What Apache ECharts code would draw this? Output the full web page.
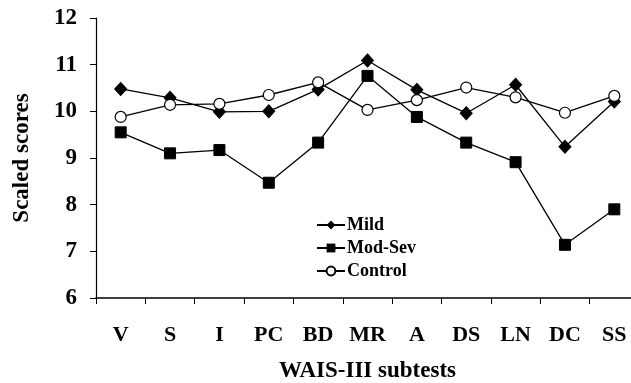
<!DOCTYPE html>
<html>
<head>
<meta charset="utf-8">
<script src="https://cdn.jsdelivr.net/npm/echarts@6/dist/echarts.min.js"></script>
<style>
html,body{margin:0;padding:0;background:#fff;}
#c{width:631px;height:383px;}
</style>
</head>
<body>
<div id="c"></div>
<script>
var categories = ['V','S','I','PC','BD','MR','A','DS','LN','DC','SS'];
var mild    = [10.48, 10.29, 9.99, 10.00, 10.47, 11.09, 10.46, 9.96, 10.57, 9.24, 10.21];
var modSev  = [9.55, 9.10, 9.17, 8.47, 9.33, 10.76, 9.88, 9.33, 8.91, 7.14, 7.90];
var control = [9.88, 10.14, 10.16, 10.35, 10.62, 10.03, 10.24, 10.51, 10.30, 9.97, 10.33];
var yTicks = [6, 7, 8, 9, 10, 11, 12];

var FONT = '"Liberation Serif", "Times New Roman", serif';
var chart = echarts.init(document.getElementById('c'), null, {renderer:'canvas'});
var lineStyle = {color:'#000', width:1.3};
chart.setOption({
  animation:false,
  backgroundColor:'#fff',
  textStyle:{fontFamily:FONT, color:'#000'},
  grid:{left:96, top:18, right:-8, bottom:85, containLabel:false, outerBoundsMode:'none'},
  legend:{
    orient:'vertical', left:311, top:211, itemWidth:28, itemHeight:11, itemGap:5,
    textStyle:{fontFamily:FONT, fontWeight:'bold', fontSize:18, color:'#000', padding:[0,0,0,-3]},
    data:['Mild','Mod-Sev','Control']
  },
  xAxis:{
    type:'category', data:categories, boundaryGap:true,
    name:'WAIS-III subtests', nameLocation:'middle', nameGap:62,
    nameTextStyle:{fontFamily:FONT, fontWeight:'bold', fontSize:23, color:'#000'},
    axisLine:{lineStyle:{color:'#000', width:1.5}},
    axisTick:{show:true, length:6, inside:false, lineStyle:{color:'#000'}},
    axisLabel:{fontFamily:FONT, fontWeight:'bold', fontSize:22, color:'#000', margin:26, interval:0},
    splitLine:{show:false}
  },
  yAxis:{
    type:'value', min:yTicks[0], max:yTicks[yTicks.length-1], interval:1,
    name:'Scaled scores', nameLocation:'middle', nameGap:62, nameRotate:90,
    nameTextStyle:{fontFamily:FONT, fontWeight:'bold', fontSize:23, color:'#000'},
    axisLine:{show:true, lineStyle:{color:'#000', width:1.2}},
    axisTick:{show:true, length:6, lineStyle:{color:'#000'}},
    axisLabel:{fontFamily:FONT, fontWeight:'bold', fontSize:23, color:'#000', margin:19},
    splitLine:{show:false}
  },
  series:[
    {name:'Mild', type:'line', data:mild, symbol:'diamond', symbolSize:[12,13],
     lineStyle:lineStyle, itemStyle:{color:'#000', borderColor:'#000'}},
    {name:'Mod-Sev', type:'line', data:modSev, symbol:'rect', symbolSize:11,
     lineStyle:lineStyle, itemStyle:{color:'#000', borderColor:'#000'}},
    {name:'Control', type:'line', data:control, symbol:'circle', symbolSize:11,
     lineStyle:lineStyle, itemStyle:{color:'#fff', borderColor:'#000', borderWidth:1.2}}
  ]
});
</script>
</body>
</html>
